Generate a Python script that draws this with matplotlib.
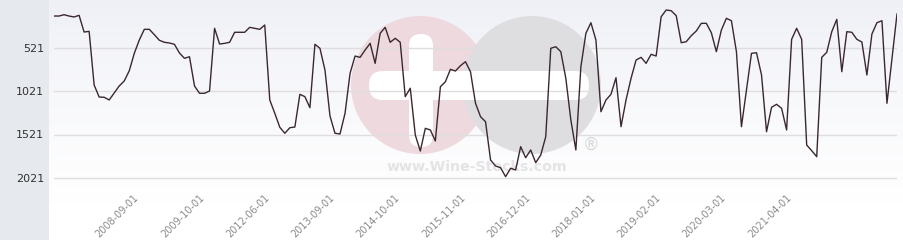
import numpy as np
import matplotlib
matplotlib.use("Agg")
import matplotlib.pyplot as plt
from matplotlib.patches import Rectangle, Circle, FancyBboxPatch

# rank history (lower = better), one value per category
ranks = [159, 159, 144, 159, 170, 151, 343, 335, 952, 1090,
         1093, 1124, 1044, 963, 906, 788, 588, 435, 312, 312,
         374, 438, 461, 469, 484, 584, 645, 627, 963, 1047,
         1047, 1021, 300, 481, 473, 461, 346, 346, 346, 289,
         300, 312, 262, 1124, 1277, 1438, 1507, 1443, 1435, 1059,
         1086, 1213, 484, 530, 780, 1308, 1507, 1515, 1277, 818,
         619, 634, 550, 473, 703, 358, 289, 461, 415, 461,
         1086, 989, 1527, 1711, 1450, 1469, 1596, 972, 914, 772,
         791, 730, 684, 799, 1162, 1316, 1374, 1814, 1883, 1903,
         2006, 1909, 1929, 1661, 1788, 1699, 1845, 1757, 1546, 530,
         512, 569, 875, 1354, 1699, 742, 358, 236, 435, 1259,
         1124, 1059, 868, 1431, 1124, 875, 665, 634, 703, 599,
         619, 167, 90, 98, 155, 466, 454, 385, 331, 243,
         243, 351, 569, 320, 185, 213, 569, 1431, 1009, 588,
         581, 837, 1489, 1208, 1174, 1220, 1469, 427, 300, 427,
         1642, 1707, 1776, 634, 576, 339, 197, 799, 339, 346,
         427, 458, 837, 366, 236, 213, 1162, 650, 136]

tick_labels = ["2008-09-01", "2009-10-01", "2012-06-01", "2013-09-01",
               "2014-10-01", "2015-11-01", "2016-12-01", "2018-01-01",
               "2019-02-01", "2020-03-01", "2021-04-01"]
first_tick = 17
tick_step = 13

y_ticks = [521, 1021, 1521, 2021]

W, H = 904, 240
fig = plt.figure(figsize=(W / 100, H / 100), dpi=100)
fig.patch.set_facecolor("white")

# background layer in pixel coordinates
bg = fig.add_axes([0, 0, 1, 1], zorder=0)
bg.set_xlim(0, W)
bg.set_ylim(H, 0)
bg.axis("off")
bg.add_patch(Rectangle((0, 0), 49, H, color="#e6e9ed", lw=0))
grad = np.linspace(0, 1, 100).reshape(-1, 1)
top = np.array([0.937, 0.941, 0.965])
bot = np.array([1.0, 1.0, 1.0])
img = top + (bot - top) * grad[:, :, None] ** 0.8
bg.imshow(img, extent=(49, W, 205, 0), aspect="auto", interpolation="bilinear")

# watermark
bg.add_patch(Circle((420, 85), 69, color="#eed9de", lw=0))
bg.add_patch(Circle((532, 85), 69, color="#dedee1", lw=0))
bg.add_patch(FancyBboxPatch((409, 34), 24, 113, boxstyle="round,pad=0,rounding_size=12",
                            color="white", lw=0))
bg.add_patch(FancyBboxPatch((369, 71), 220, 29, boxstyle="round,pad=0,rounding_size=14",
                            color="white", lw=0))
bg.text(477, 167, "www.Wine-Stocks.com", fontsize=10.2, fontweight="bold",
        color="#e4e4e6", ha="center", va="center")
bg.text(591, 145, "®", fontsize=12, color="#d8d8da", ha="center", va="center")

# main chart
ax = fig.add_axes([54 / W, 40 / H, 843 / W, 196.5 / H], zorder=1)
ax.patch.set_alpha(0)
x = np.arange(len(ranks))
ax.plot(x, ranks, color="#3a2830", lw=1.0, zorder=3)
ax.set_xlim(0, len(ranks) - 1)
ax.set_ylim(2274, 15)

ax.set_yticks(y_ticks)
ax.set_yticklabels([str(v) for v in y_ticks])
ax.grid(axis="y", color="#dedede", lw=1)
ax.tick_params(axis="y", length=0, pad=7, labelsize=8, labelcolor="#333333")
ax.set_xticks([])
for s in ax.spines.values():
    s.set_visible(False)

trans = ax.get_xaxis_transform()
for k, lab in enumerate(tick_labels):
    xi = first_tick + k * tick_step
    ax.text(xi - 0.4, 0.02, lab, transform=trans, rotation=45,
            rotation_mode="anchor", ha="right", va="center",
            fontsize=7, color="#8a8a8a", clip_on=False)

fig.savefig("out.png", dpi=100)
